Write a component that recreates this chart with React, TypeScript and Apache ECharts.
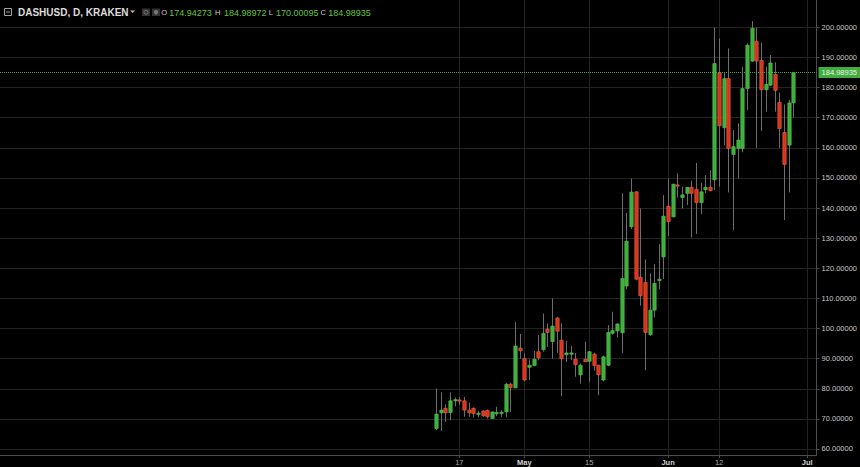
import React, { useEffect, useRef } from 'react';
import * as echarts from 'echarts';

// ---- data ----
const axisFirstDay = '2017-01-08';
const axisLastDay = '2017-07-03';
const candleFirstDay = '2017-04-12';

const opens = [
  66.8, 72.0, 73.5, 72.1, 76.0, 76.3, 76.0, 72.9, 73.5, 71.6, 72.6, 72.8, 70.1, 71.9, 71.9, 72.3, 81.5, 80.3, 93.5,
  90.0, 87.1, 87.7, 92.3, 93.0, 99.8, 95.7, 103.5, 96.1, 91.3, 91.6, 89.8, 84.6, 89.8, 89.1, 91.5, 87.8, 82.9, 87.8,
  98.4, 99.2, 98.6, 114.1, 133.8, 145.4, 117.0, 115.3, 98.0, 106.1, 115.9, 123.8, 140.6, 137.1, 147.7, 143.5, 144.9,
  146.9, 146.2, 141.8, 146.1, 146.9, 149.4, 184.9, 166.7, 183.0, 157.8, 159.8, 159.8, 179.7, 188.8, 195.4, 189.0,
  179.3, 180.8, 184.4, 175.1, 165.1, 160.9, 174.94273,
];
const closes = [
  71.6, 72.9, 72.0, 76.0, 76.4, 76.1, 72.9, 72.0, 71.8, 71.9, 71.0, 70.7, 72.3, 72.1, 72.2, 81.5, 80.4, 94.2, 92.6,
  82.9, 87.8, 89.8, 90.3, 98.4, 98.7, 100.8, 99.1, 90.0, 91.9, 91.9, 88.0, 87.8, 89.0, 92.3, 87.7, 84.6, 90.6, 98.7,
  99.3, 101.5, 116.6, 129.0, 145.3, 116.4, 110.9, 98.7, 106.1, 115.0, 116.4, 137.3, 135.5, 147.9, 147.5, 144.4, 146.9,
  144.9, 141.8, 145.4, 146.9, 145.8, 188.0, 167.3, 183.0, 159.8, 160.4, 162.6, 179.7, 194.1, 199.7, 188.8, 179.3,
  181.1, 188.2, 179.1, 166.4, 154.5, 174.94, 184.98935,
];
const lows = [
  66.3, 66.0, 69.0, 69.6, 74.2, 74.6, 70.7, 70.7, 70.4, 70.5, 70.7, 70.1, 70.0, 70.9, 70.7, 70.7, 72.3, 80.3, 90.0,
  82.5, 82.9, 87.5, 89.5, 92.3, 93.9, 90.0, 91.9, 77.5, 88.9, 89.5, 84.0, 81.7, 88.8, 82.3, 86.0, 77.9, 82.5, 87.5,
  98.0, 97.0, 91.9, 113.0, 133.0, 116.0, 107.6, 86.2, 97.5, 103.7, 113.0, 116.4, 130.7, 136.9, 143.5, 139.9, 141.0,
  130.2, 131.4, 138.0, 144.9, 145.5, 146.0, 147.1, 160.9, 145.2, 132.7, 149.8, 158.5, 172.5, 188.6, 160.0, 165.6,
  172.0, 180.5, 172.0, 160.0, 136.0, 145.2, 170.00095,
];
const highs = [
  80.1, 78.8, 74.8, 78.8, 77.1, 77.3, 77.3, 75.4, 73.8, 72.7, 72.9, 73.1, 72.4, 74.0, 72.9, 82.0, 82.0, 102.2, 98.2,
  91.7, 89.7, 92.6, 97.8, 105.0, 101.7, 110.0, 103.9, 101.7, 95.9, 94.2, 91.9, 88.3, 95.6, 92.5, 91.9, 88.0, 91.0, 101.1,
  105.6, 101.7, 144.9, 138.4, 149.8, 145.6, 139.9, 122.9, 118.3, 121.4, 128.0, 144.3, 149.8, 148.1, 151.5, 147.1, 147.0,
  149.1, 155.0, 148.4, 151.0, 152.6, 200.0, 196.3, 185.0, 193.0, 165.9, 168.1, 186.9, 194.7, 202.1, 200.0, 195.0,
  186.9, 190.8, 188.4, 178.4, 174.4, 175.9, 184.98972,
];

const xTickDates = ['2017-04-17', '2017-05-01', '2017-05-15', '2017-06-01', '2017-06-12', '2017-07-01'];
const xTickLabels = ['17', 'May', '15', 'Jun', '12', 'Jul'];
const xTickIsMonth = [false, true, false, true, false, true];
const yTickValues = [60, 70, 80, 90, 100, 110, 120, 130, 140, 150, 160, 170, 180, 190, 200];
const yMin = 58.0;
const yMax = 209.1;
const lastPrice = 184.98935;

const headerTitle = 'DASHUSD, D, KRAKEN';
const headerKeys = ['O', 'H', 'L', 'C'];
const headerValues = ['174.94273', '184.98972', '170.00095', '184.98935'];

// ---- helpers ----
function dayList(from: string, count?: number, to?: string): string[] {
  const out: string[] = [];
  const d = new Date(from + 'T00:00:00Z');
  const end = to ? new Date(to + 'T00:00:00Z').getTime() : Infinity;
  while (d.getTime() <= end && (count === undefined || out.length < count)) {
    out.push(d.toISOString().slice(0, 10));
    d.setUTCDate(d.getUTCDate() + 1);
  }
  return out;
}

const FONT = '"Liberation Sans", Arial, sans-serif';
const UP_FILL = '#3fae3c';
const UP_BORDER = '#57c452';
const DOWN_FILL = '#d8321f';
const DOWN_BORDER = '#f0643f';
const WICK = '#6e6e6e';
const GRID = '#232323';
const AXIS = '#4d4d4d';

export default function App() {
  const ref = useRef<HTMLDivElement>(null);

  useEffect(() => {
    if (!ref.current) return;
    const chart = echarts.init(ref.current, undefined, { renderer: 'svg' });

    const axisDays = dayList(axisFirstDay, undefined, axisLastDay);
    const candleDays = dayList(candleFirstDay, opens.length);
    const data = candleDays.map((d, i) => [d, opens[i], closes[i], lows[i], highs[i]]);
    const tickMap: Record<string, number> = {};
    xTickDates.forEach((d, i) => (tickMap[d] = i));
    const isTick = (_idx: number, value: string) => tickMap[value] !== undefined;

    const headerGraphics: any[] = [];
    headerGraphics.push(
      { type: 'rect', shape: { x: 4.5, y: 8.5, width: 7, height: 7 }, style: { fill: 'none', stroke: '#a0a0a0', lineWidth: 1 } },
      { type: 'line', shape: { x1: 6, y1: 12, x2: 10, y2: 12 }, style: { stroke: '#a0a0a0', lineWidth: 1 } },
      {
        type: 'text',
        x: 18,
        y: 12.5,
        style: { text: headerTitle, fill: '#dcdcdc', font: `bold 10px ${FONT}`, verticalAlign: 'middle' },
      },
      { type: 'polygon', shape: { points: [[130, 10.5], [135, 10.5], [132.5, 13]] }, style: { fill: '#b8b8b8' } },
      { type: 'rect', shape: { x: 142, y: 8.5, width: 8, height: 7.5 }, style: { fill: '#333333' } },
      { type: 'circle', shape: { cx: 146, cy: 12.25, r: 2 }, style: { fill: 'none', stroke: '#777', lineWidth: 1 } },
      { type: 'rect', shape: { x: 152, y: 8.5, width: 8, height: 7.5 }, style: { fill: '#333333' } },
      { type: 'circle', shape: { cx: 156, cy: 12.25, r: 2.2 }, style: { fill: '#777' } }
    );
    const keyRight = [167, 220.5, 273, 326];
    const valX = [169.3, 224, 276, 328.3];
    headerKeys.forEach((k, i) => {
      headerGraphics.push({
        type: 'text',
        x: keyRight[i],
        y: 12.5,
        style: { text: k, fill: '#cfcfcf', font: `7.5px ${FONT}`, verticalAlign: 'middle', align: 'right' },
      });
      headerGraphics.push({
        type: 'text',
        x: valX[i],
        y: 12.5,
        style: { text: headerValues[i], fill: '#66c43f', font: `9px ${FONT}`, verticalAlign: 'middle' },
      });
    });

    chart.setOption({
      animation: false,
      backgroundColor: '#000000',
      grid: { left: 0, right: 42, top: 0, bottom: 12, containLabel: false },
      xAxis: {
        type: 'category',
        data: axisDays,
        boundaryGap: false,
        axisLine: { show: true, lineStyle: { color: AXIS, width: 1 } },
        axisTick: { show: true, interval: isTick, length: 3, lineStyle: { color: AXIS } },
        axisLabel: {
          show: true,
          interval: isTick,
          margin: 3,
          formatter: (v: string) => {
            const i = tickMap[v];
            if (i === undefined) return '';
            return xTickIsMonth[i] ? `{m|${xTickLabels[i]}}` : `{d|${xTickLabels[i]}}`;
          },
          rich: {
            m: { color: '#d4d4d4', fontWeight: 'bold', fontSize: 7.5, fontFamily: FONT },
            d: { color: '#a8a8a8', fontSize: 7.5, fontFamily: FONT },
          },
        },
        splitLine: { show: true, interval: isTick, lineStyle: { color: GRID, width: 1 } },
      },
      yAxis: {
        type: 'value',
        position: 'right',
        min: yMin,
        max: yMax,
        scale: true,
        axisLine: { show: true, lineStyle: { color: AXIS, width: 1 } },
        axisTick: { show: true, length: 3, customValues: yTickValues, lineStyle: { color: AXIS } },
        axisLabel: {
          show: true,
          customValues: yTickValues,
          margin: 5,
          color: '#c8c8c8',
          fontSize: 7.5,
          fontFamily: FONT,
          formatter: (v: number) => v.toFixed(5),
        },
        splitLine: { show: true, lineStyle: { color: GRID, width: 1 } },
      },
      series: [
        {
          type: 'custom',
          name: 'DASHUSD',
          data,
          encode: { x: 0, y: [1, 2, 3, 4] },
          clip: true,
          renderItem: (_params: any, api: any) => {
            const idx = api.value(0);
            const o = api.value(1);
            const c = api.value(2);
            const l = api.value(3);
            const h = api.value(4);
            const pO = api.coord([idx, o]);
            const pC = api.coord([idx, c]);
            const pL = api.coord([idx, l]);
            const pH = api.coord([idx, h]);
            const cx = Math.round(pO[0]) + 0.5;
            const bw = 3.4;
            const up = c >= o;
            const top = Math.min(pO[1], pC[1]);
            const bh = Math.max(Math.abs(pO[1] - pC[1]), 1.3);
            return {
              type: 'group',
              children: [
                {
                  type: 'line',
                  shape: { x1: cx, y1: pH[1], x2: cx, y2: pL[1] },
                  style: { stroke: WICK, lineWidth: 1 },
                },
                {
                  type: 'rect',
                  shape: { x: cx - bw / 2, y: top, width: bw, height: bh },
                  style: {
                    fill: up ? UP_FILL : DOWN_FILL,
                    stroke: up ? UP_BORDER : DOWN_BORDER,
                    lineWidth: 0.6,
                  },
                },
              ],
            };
          },
        },
        {
          type: 'line',
          name: 'last',
          data: [],
          silent: true,
          markLine: {
            silent: true,
            symbol: ['none', 'none'],
            animation: false,
            lineStyle: { color: '#3fae3c', type: 'dotted', width: 1 },
            label: {
              show: true,
              position: 'end',
              distance: 2,
              formatter: () => lastPrice.toFixed(5),
              backgroundColor: '#3fae3c',
              color: '#f0f0f0',
              fontSize: 7.5,
              fontFamily: FONT,
              padding: [2, 3, 1, 3],
            },
            emphasis: { disabled: true },
            data: [{ yAxis: lastPrice }],
          },
        },
      ],
      graphic: headerGraphics,
    });

    return () => chart.dispose();
  }, []);

  return (
    <div
      ref={ref}
      style={{ position: 'fixed', left: 0, top: 0, width: 860, height: 467, background: '#000' }}
    />
  );
}
